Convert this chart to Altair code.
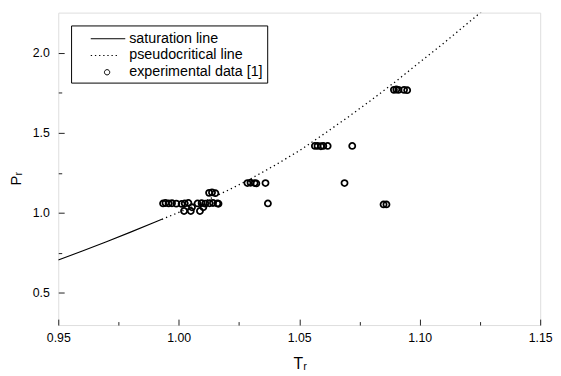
import altair as alt
import pandas as pd

# ---------------- data ----------------
sat_T = [0.950, 0.960, 0.970, 0.980, 0.990, 0.993]
sat_P = [0.706, 0.762, 0.820, 0.880, 0.942, 0.960]

pc_T = [0.993, 1.000, 1.010, 1.020, 1.030, 1.040, 1.050, 1.060, 1.070, 1.080,
        1.090, 1.100, 1.110, 1.120, 1.130]
pc_P = [0.960, 1.003, 1.068, 1.138, 1.214, 1.298, 1.388, 1.490, 1.595, 1.705,
        1.820, 1.940, 2.060, 2.185, 2.310]

exp_T = [0.9935, 0.9945, 0.9958, 0.9972, 0.9990, 1.0012, 1.0025, 1.0040, 1.0078,
         1.0095, 1.0110, 1.0128, 1.0142, 1.0160, 1.0165,
         1.0055, 1.0102, 1.0022, 1.0050, 1.0088,
         1.0126, 1.0138, 1.0152,
         1.0285, 1.0298, 1.0315, 1.0322, 1.0360, 1.0688,
         1.0370,
         1.0565, 1.0576, 1.0590, 1.0600, 1.0618, 1.0720,
         1.0893, 1.0903, 1.0912, 1.0935, 1.0948,
         1.0850, 1.0862]
exp_P = [1.059, 1.062, 1.059, 1.060, 1.058, 1.056, 1.059, 1.062, 1.059,
         1.061, 1.058, 1.060, 1.062, 1.059, 1.057,
         1.035, 1.035, 1.012, 1.012, 1.012,
         1.125, 1.128, 1.123,
         1.186, 1.188, 1.186, 1.184, 1.186, 1.186,
         1.059,
         1.418, 1.418, 1.416, 1.418, 1.418, 1.418,
         1.768, 1.770, 1.768, 1.768, 1.766,
         1.053, 1.053]

series_names = ["saturation line", "pseudocritical line", "experimental data [1]"]

x_major = [0.95, 1.00, 1.05, 1.10, 1.15]
x_all = [0.95, 0.975, 1.00, 1.025, 1.05, 1.075, 1.10, 1.125, 1.15]
y_major = [0.5, 1.0, 1.5, 2.0]
y_all = [0.5, 0.75, 1.0, 1.25, 1.5, 1.75, 2.0]

# ---------------- chart ----------------
W, H = 489, 317
FONT = "Liberation Sans"

sat_df = pd.DataFrame({"Tr": sat_T, "Pr": sat_P})
pc_df = pd.DataFrame({"Tr": pc_T, "Pr": pc_P})
exp_df = pd.DataFrame({"Tr": exp_T, "Pr": exp_P})
leg_df = pd.DataFrame({"series": series_names})

xs = alt.Scale(domain=[0.95, 1.15], nice=False, zero=False)
ys = alt.Scale(domain=[0.3, 2.25], nice=False, zero=False)

x_lab_axis = alt.Axis(values=x_major, format=".2f", ticks=False, domain=False, grid=False,
                      labelPadding=7, labelFontSize=12.5, labelFont=FONT, labelColor="black",
                      labelFlush=False, title="Tᵣ", titleFont=FONT, titleFontSize=16,
                      titleFontWeight="normal", titleColor="black", titleX=245, titleY=44,
                      titleBaseline="alphabetic", titleAlign="center")
y_lab_axis = alt.Axis(values=y_major, format=".1f", ticks=False, domain=False, grid=False,
                      labelPadding=9, labelFontSize=12.5, labelFont=FONT, labelColor="black",
                      labelFlush=False, title="Pᵣ", titleFont=FONT, titleFontSize=15,
                      titleFontWeight="normal", titleColor="black", titleX=-38, titleY=168,
                      titleAngle=270, titleBaseline="alphabetic", titleAlign="center")

x_tick_axis = alt.Axis(orient="top", offset=-H, values=x_all, labels=False, domain=False,
                       grid=False, title=None, tickColor="#222", tickWidth=1,
                       tickSize=alt.ExprRef(expr="round(datum.value*40) % 2 == 0 ? 6 : 3.5"))
y_tick_axis = alt.Axis(orient="right", offset=-W, values=y_all, labels=False, domain=False,
                       grid=False, title=None, tickColor="#222", tickWidth=1,
                       tickSize=alt.ExprRef(expr="round(datum.value*4) % 2 == 0 ? 6 : 3.5"))

X = alt.X("Tr:Q", scale=xs, axis=x_lab_axis)
Y = alt.Y("Pr:Q", scale=ys, axis=y_lab_axis)

sat_line = alt.Chart(sat_df).mark_line(color="black", strokeWidth=1.1, clip=True).encode(x=X, y=Y)
pc_line = alt.Chart(pc_df).mark_line(color="black", strokeWidth=1.3, strokeDash=[1.3, 3.2],
                                     clip=True).encode(x=X, y=Y)
exp_pts = alt.Chart(exp_df).mark_point(shape="circle", filled=False, color="black", size=38,
                                       strokeWidth=1.8, opacity=1).encode(x=X, y=Y)

# legend symbols (custom paths, unit = 9 px)
solid_path = "M0.72,0H4.61"
dotted_path = "".join(f"M{0.72 + 0.467 * i:.3f},0h0.15" for i in range(7))
circle_path = "M2.86,0A0.3,0.3 0 1 1 2.26,0A0.3,0.3 0 1 1 2.86,0Z"

legend_layer = alt.Chart(leg_df).mark_point(filled=False, opacity=0, color="black").encode(
    shape=alt.Shape("series:N",
                    scale=alt.Scale(domain=series_names,
                                    range=[solid_path, dotted_path, circle_path]),
                    legend=alt.Legend(orient="none", legendX=13, legendY=13, title=None,
                                      padding=4, strokeColor="black", fillColor="white",
                                      symbolSize=324, symbolStrokeWidth=1,
                                      symbolStrokeColor="black", symbolFillColor="transparent",
                                      symbolOpacity=1, labelFont=FONT, labelFontSize=14.5,
                                      labelColor="black", labelOffset=36, rowPadding=1,
                                      cornerRadius=0))
)

main = alt.layer(sat_line, pc_line, exp_pts, legend_layer)

tick_layer = alt.Chart(exp_df).mark_point(opacity=0).encode(
    x=alt.X("Tr:Q", scale=xs, axis=x_tick_axis),
    y=alt.Y("Pr:Q", scale=ys, axis=y_tick_axis),
)

chart = alt.layer(main, tick_layer).resolve_axis(x="independent", y="independent").properties(
    width=W, height=H,
    autosize=alt.AutoSizeParams(type="none"),
    padding={"left": 51, "top": 2, "right": 13, "bottom": 49},
).configure_view(stroke="#666", strokeWidth=1.8).configure(background="white")

chart.save("out.html", embed_options={"renderer": "svg", "actions": False})
